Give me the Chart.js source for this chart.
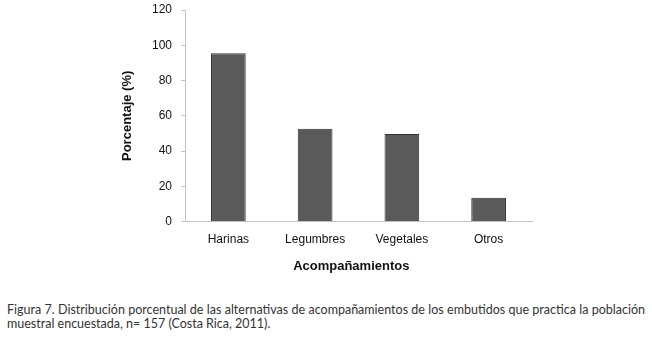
<!DOCTYPE html>
<html>
<head>
<meta charset="utf-8">
<script src="https://cdn.jsdelivr.net/npm/chart.js@4"></script>
<style>
  body { margin: 0; background: #fff; }
  #wrap { position: relative; width: 652px; height: 339px; }
  #caption {
    position: absolute; left: 7px; top: 303px; width: 638px;
    font-family: Lato, "Open Sans", sans-serif; font-size: 12.5px; line-height: 14px;
    color: #333;
  }
  #caption .l1 { text-align: justify; text-align-last: justify; white-space: nowrap; }
</style>
</head>
<body>
<div id="wrap">
  <canvas id="ChartAcomp" width="652" height="285"></canvas>
  <div id="caption">
    <div class="l1">Figura 7. Distribución porcentual de las alternativas de acompañamientos de los embutidos que practica la población</div>
    <div>muestral encuestada, n= 157 (Costa Rica, 2011).</div>
  </div>
</div>
<script>
var categorias = ["Harinas", "Legumbres", "Vegetales", "Otros"];
var porcentajes = [95.5, 52.7, 49.7, 13.6];
var yTicks = [0, 20, 40, 60, 80, 100, 120];

var ctx = document.getElementById("ChartAcomp").getContext('2d');
var chart = new Chart(ctx, {
    type: 'bar',
    data: {
        labels: categorias,
        datasets: [{
            label: "Porcentaje",
            data: porcentajes,
            backgroundColor: '#5a5a5a',
            borderColor: '#333333',
            borderWidth: 1,
            barPercentage: 0.5,
            categoryPercentage: 0.8
        }]
    },
    options: {
        responsive: false,
        animation: false,
        layout: { padding: { left: 120, right: 120, top: 10, bottom: 10.5 } },
        plugins: { legend: { display: false }, tooltip: { enabled: false } },
        scales: {
            x: {
                grid: { drawOnChartArea: false, drawTicks: false },
                border: { display: true, color: '#c4c4c4', width: 1 },
                ticks: { color: '#111', padding: 11, font: { family: 'Liberation Sans', size: 12 } },
                title: {
                    display: true, text: "Acompañamientos\u00a0\u00a0\u00a0\u00a0", color: '#111',
                    padding: 0, font: { family: 'Liberation Sans', size: 13, weight: 'bold' }
                },
                afterFit: function(scale) { scale.height = 52.8; }
            },
            y: {
                min: 0, max: yTicks[yTicks.length - 1],
                afterBuildTicks: function(scale) {
                    scale.ticks = yTicks.map(function(v) { return { value: v }; });
                },
                grid: { drawOnChartArea: false, drawTicks: true, tickLength: 4, color: '#c4c4c4' },
                border: { display: true, color: '#c4c4c4', width: 1 },
                ticks: { color: '#111', padding: 9, font: { family: 'Liberation Sans', size: 12 } },
                title: {
                    display: true, text: "Porcentaje (%)", color: '#111',
                    padding: 0, font: { family: 'Liberation Sans', size: 13, weight: 'bold' }
                },
                afterFit: function(scale) {
                    scale.width = 65;
                    scale.paddingTop = 0;
                    scale.paddingBottom = 0;
                }
            }
        }
    }
});
</script>
</body>
</html>
